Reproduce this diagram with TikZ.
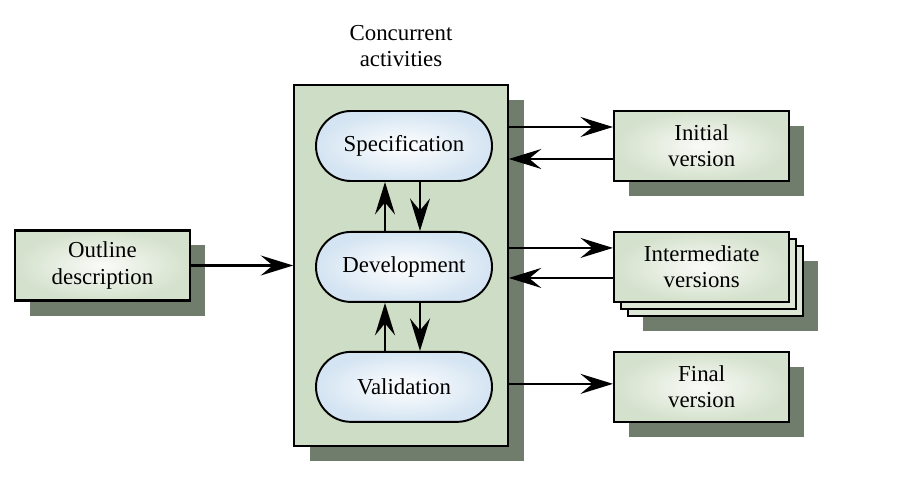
\documentclass[tikz,border=0pt]{standalone}
\usepackage{fontspec}
\setmainfont{Liberation Serif}
\usetikzlibrary{arrows.meta,positioning,shadows}

\definecolor{panelgreen}{RGB}{206,221,198}
\definecolor{shadowgreen}{RGB}{112,124,108}
\definecolor{boxedge}{RGB}{212,225,204}
\definecolor{boxmid}{RGB}{250,251,248}
\definecolor{pillblue}{RGB}{212,228,242}

\begin{document}
\begin{tikzpicture}[>={Stealth[length=6.5mm,width=4mm,inset=2.4mm]},
  line width=1.4pt,font=\fontsize{13}{15}\selectfont,
  panel/.style={draw,fill=panelgreen,line width=0.9pt,
  minimum width=4.28cm,minimum height=7.22cm,
  drop shadow={shadow xshift=0.32cm,shadow yshift=-0.3cm,
  fill=shadowgreen,opacity=1}},
  activity/.style={draw,rounded corners=0.7cm,line width=1.1pt,
  inner color=white,outer color=pillblue,
  minimum width=3.52cm,minimum height=1.4cm},
  version/.style={draw,line width=1.4pt,align=center,
  inner color=boxmid,outer color=boxedge,
  minimum width=3.5cm,minimum height=1.4cm,
  drop shadow={shadow xshift=0.3cm,shadow yshift=-0.3cm,
  fill=shadowgreen,opacity=1}}]

  \useasboundingbox (0,0) rectangle (18.02,-9.62);

  \node[panel] (box) at (8.02,-5.31) {};
  \node[align=center,above=0.2cm of box] (title) {Concurrent\\activities};

  \node[activity] (spec) at (8.08,-2.92) {Specification};
  \node[activity,below=0.98cm of spec] (dev) {Development};
  \node[activity,below=0.96cm of dev] (val) {Validation};

  \node[version,right=2.4cm of spec] (init) {Initial\\version};
  \node[version,right=2.4cm of dev,
    drop shadow={shadow xshift=0.58cm,shadow yshift=-0.58cm,
    fill=shadowgreen,opacity=1},
    double copy shadow={shadow xshift=0.14cm,shadow yshift=-0.14cm,
    fill=boxedge!80!white,draw=black,line width=1.3pt}] (inter)
    {Intermediate\\versions};
  \node[version,right=2.4cm of val] (final) {Final\\version};

  \node[version,left=2.04cm of box] (outline) {Outline\\description};

  % loops between the activities
  \draw[->] ([xshift=-0.38cm]dev.north) -- ([xshift=-0.38cm]spec.south);
  \draw[->] ([xshift=0.32cm]spec.south) -- ([xshift=0.32cm]dev.north);
  \draw[->] ([xshift=-0.38cm]val.north) -- ([xshift=-0.38cm]dev.south);
  \draw[->] ([xshift=0.32cm]dev.south) -- ([xshift=0.32cm]val.north);

  % out to the versions and back
  \draw[->] ([yshift=0.38cm]init.west -| box.east) -- ([yshift=0.38cm]init.west);
  \draw[->] ([yshift=-0.26cm]init.west) -- ([yshift=-0.26cm]init.west -| box.east);
  \draw[->] ([yshift=0.38cm]inter.west -| box.east) -- ([yshift=0.38cm]inter.west);
  \draw[->] ([yshift=-0.22cm]inter.west) -- ([yshift=-0.22cm]inter.west -| box.east);
  \draw[->] ([yshift=0.06cm]final.west -| box.east) -- ([yshift=0.06cm]final.west);

  \draw[->] (outline.east) -- (outline.east -| box.west);

\end{tikzpicture}
\end{document}
